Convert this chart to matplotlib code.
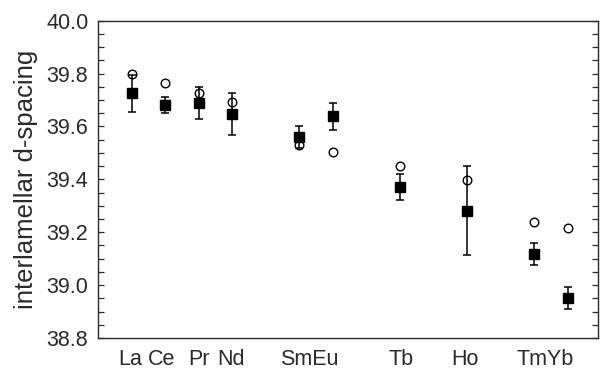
import numpy as np
import matplotlib
matplotlib.use("Agg")
import matplotlib.pyplot as plt
from matplotlib.ticker import MultipleLocator

plt.rcParams['font.family'] = ['Liberation Sans', 'DejaVu Sans']

# lanthanides, plotted against atomic number
elements = ["La", "Ce", "Pr", "Nd", "Sm", "Eu", "Tb", "Ho", "Tm", "Yb"]
atomic_number = [57, 58, 59, 60, 62, 63, 65, 67, 69, 70]

# measured d-spacing (filled squares) with error
d_meas = [39.726, 39.681, 39.690, 39.648, 39.560, 39.638, 39.371, 39.282, 39.118, 38.951]
d_err = [0.07, 0.032, 0.06, 0.08, 0.043, 0.05, 0.05, 0.17, 0.042, 0.04]

# second set (open circles)
d_calc = [39.800, 39.764, 39.726, 39.694, 39.528, 39.502, 39.449, 39.396, 39.238, 39.217]

# axis labels under the points (some pairs share one label)
tick_text = ["La", "Ce", "Pr", "Nd", "SmEu", "Tb", "Ho", "TmYb"]
tick_pos = [56.97, 57.9, 59.0, 59.96, 62.31, 65.04, 66.93, 69.31]

ink = "#2a2a2a"

fig = plt.figure(figsize=(6.0, 3.69), dpi=100)
ax = fig.add_axes([0.1633, 0.084, 0.8334, 0.86])

ax.plot(atomic_number, d_calc, linestyle="none", marker="o", markersize=6.2,
        markerfacecolor="white", markeredgecolor="black", markeredgewidth=1.0, zorder=2)
ax.errorbar(atomic_number, d_meas, yerr=d_err, fmt="s", color="black",
            markersize=7.4, elinewidth=1.1, capsize=2.6, capthick=1.1, zorder=3)

ax.set_xlim(56.0, 70.9)
ax.set_ylim(38.8, 40.0)
ax.yaxis.set_major_locator(MultipleLocator(0.2))
ax.yaxis.set_minor_locator(MultipleLocator(0.05))
ax.yaxis.set_major_formatter(matplotlib.ticker.FormatStrFormatter("%.1f"))
ax.tick_params(axis="y", which="both", direction="in", left=True, right=True,
               length=4, width=0.9, color=ink, labelsize=15.5, labelcolor=ink, pad=7)
ax.set_xticks(tick_pos)
ax.set_xticklabels(tick_text)
ax.tick_params(axis="x", length=0, labelsize=15.5, labelcolor=ink, pad=8)

for s in ax.spines.values():
    s.set_color(ink)
    s.set_linewidth(1.0)

ax.set_ylabel("interlamellar d-spacing", fontsize=18.5, color=ink, labelpad=6)

fig.savefig("out.png", dpi=100)
